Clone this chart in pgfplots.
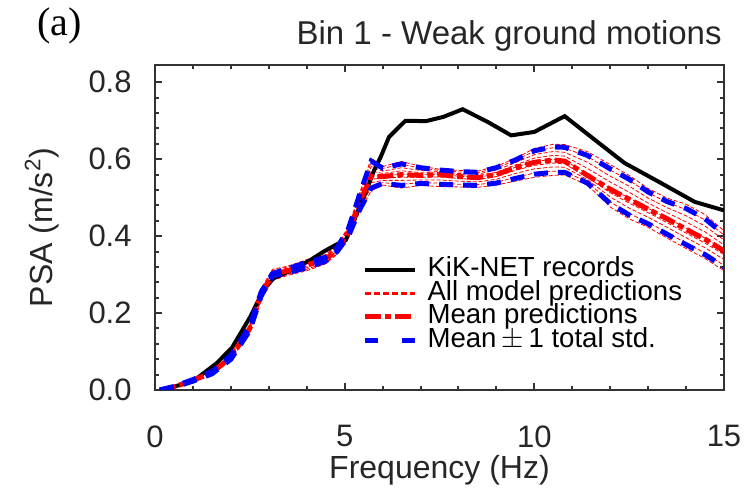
\documentclass[border=0pt]{standalone}
\usepackage{pgfplots}
\usepackage{pgfplotstable}
\pgfplotsset{compat=1.18}
\usepackage{fontspec}
\setmainfont{Liberation Sans}
\newfontfamily\serifa{Liberation Serif}

\pgfplotstableread{
f      v
0.13   0
0.66   0.013
1.1    0.03
1.63   0.07
2.03   0.11
2.51   0.19
2.86   0.26
3.12   0.29
3.57   0.31
4.1    0.338
4.45   0.36
4.76   0.377
5.03   0.39
5.24   0.44
5.5    0.50
5.77   0.57
5.95   0.606
6.17   0.658
6.6    0.70
7.14   0.699
7.6    0.71
8.11   0.73
8.77   0.697
9.39   0.662
10.0   0.671
10.8   0.712
11.6   0.65
12.38  0.59
13.36  0.537
14.23  0.489
15.0   0.467
}\records

\pgfplotstableread{
f     m      up     lo
0.13  0      0      0
0.5   0.008  0.009  0.007
1     0.025  0.027  0.023
1.5   0.045  0.048  0.042
2     0.085  0.090  0.080
2.5   0.160  0.165  0.155
2.8   0.250  0.255  0.245
3.1   0.300  0.303  0.297
3.5   0.310  0.315  0.305
4     0.325  0.332  0.318
4.5   0.340  0.345  0.335
4.8   0.365  0.370  0.360
5.1   0.410  0.420  0.400
5.4   0.490  0.510  0.470
5.7   0.555  0.595  0.525
6     0.555  0.577  0.537
6.5   0.560  0.588  0.532
7     0.558  0.578  0.537
7.5   0.560  0.572  0.535
8     0.555  0.568  0.533
8.5   0.552  0.566  0.532
9     0.560  0.578  0.538
9.5   0.578  0.598  0.550
10    0.592  0.622  0.561
10.5  0.598  0.632  0.566
10.8  0.595  0.631  0.566
11.4  0.558  0.610  0.538
12    0.522  0.575  0.485
12.5  0.496  0.548  0.455
13    0.470  0.515  0.432
13.5  0.445  0.490  0.405
14    0.418  0.472  0.378
14.5  0.392  0.445  0.352
15    0.362  0.405  0.320
}\stats

\pgfplotstableread{
f     A      B      C      D      E      F      G      H      I
0.13  0      0      0      0      0      0      0      0      0
0.5   0.006  0.006  0.007  0.008  0.008  0.009  0.009  0.010  0.010
1     0.021  0.022  0.023  0.024  0.025  0.026  0.027  0.028  0.029
1.5   0.040  0.041  0.043  0.044  0.045  0.046  0.048  0.049  0.050
2     0.078  0.080  0.082  0.084  0.085  0.087  0.089  0.091  0.092
2.5   0.150  0.153  0.156  0.158  0.160  0.163  0.165  0.168  0.170
2.8   0.235  0.239  0.243  0.247  0.251  0.254  0.258  0.261  0.264
3.1   0.285  0.289  0.293  0.297  0.301  0.304  0.308  0.311  0.314
3.5   0.298  0.301  0.305  0.308  0.311  0.314  0.317  0.320  0.322
4     0.310  0.314  0.318  0.322  0.326  0.329  0.333  0.336  0.339
4.5   0.328  0.331  0.335  0.338  0.341  0.344  0.347  0.350  0.352
4.8   0.353  0.356  0.360  0.363  0.366  0.369  0.372  0.375  0.377
5.1   0.395  0.399  0.403  0.407  0.411  0.414  0.418  0.421  0.424
5.4   0.465  0.472  0.479  0.485  0.491  0.497  0.503  0.509  0.514
5.7   0.518  0.528  0.539  0.548  0.557  0.569  0.581  0.593  0.603
6     0.533  0.539  0.545  0.551  0.556  0.563  0.569  0.576  0.581
6.5   0.525  0.535  0.545  0.553  0.561  0.570  0.578  0.587  0.594
7     0.532  0.539  0.546  0.553  0.559  0.565  0.571  0.577  0.582
7.5   0.529  0.538  0.546  0.554  0.561  0.564  0.568  0.571  0.574
8     0.528  0.535  0.543  0.550  0.556  0.560  0.563  0.567  0.571
8.5   0.527  0.534  0.541  0.547  0.553  0.557  0.561  0.565  0.569
9     0.533  0.540  0.548  0.555  0.561  0.566  0.572  0.577  0.582
9.5   0.543  0.553  0.563  0.571  0.579  0.585  0.591  0.597  0.602
10    0.553  0.564  0.575  0.584  0.594  0.603  0.612  0.621  0.628
10.5  0.558  0.569  0.580  0.590  0.600  0.610  0.620  0.630  0.639
10.8  0.559  0.569  0.579  0.588  0.597  0.608  0.618  0.629  0.638
11.4  0.533  0.540  0.547  0.553  0.561  0.576  0.592  0.607  0.620
12    0.476  0.489  0.502  0.513  0.525  0.541  0.556  0.572  0.586
12.5  0.445  0.459  0.473  0.486  0.499  0.514  0.530  0.545  0.558
13    0.423  0.436  0.449  0.461  0.472  0.486  0.499  0.513  0.524
13.5  0.395  0.409  0.423  0.435  0.447  0.461  0.474  0.488  0.499
14    0.368  0.382  0.396  0.408  0.421  0.437  0.453  0.469  0.483
14.5  0.342  0.356  0.370  0.382  0.395  0.411  0.426  0.442  0.456
15    0.310  0.324  0.339  0.352  0.364  0.377  0.390  0.403  0.414
}\models

\begin{document}
\begin{tikzpicture}
\path (-77.5pt,-51pt) rectangle (298pt,195pt);
\begin{axis}[
    scale only axis,
    width=284.5pt, height=162.5pt,
    xmin=0, xmax=15, ymin=0, ymax=0.845,
    xtick={0,5,10,15}, ytick={0,0.2,0.4,0.6,0.8},
    minor x tick num=4, minor y tick num=4,
    tick align=inside,
    major tick length=3.5pt, minor tick length=1.8pt,
    axis line style={line width=1.2pt, black!80},
    every tick/.style={line width=1pt, black!80},
    /pgf/number format/assume math mode=true,
    yticklabel style={/pgf/number format/fixed, /pgf/number format/precision=1,
        /pgf/number format/fixed zerofill, inner sep=0pt, xshift=-11.5pt},
    xticklabel style={inner sep=0pt, yshift=-17.5pt},
    tick label style={font=\fontsize{15.5}{17}\selectfont, black!85},
    xlabel={Frequency (Hz)},
    ylabel={PSA (m/s\textsuperscript{2})},
    label style={font=\fontsize{16}{18}\selectfont, black!85, inner sep=0pt},
    xlabel style={at={(axis description cs:0.5,-0.2708)}, anchor=base},
    ylabel style={at={(axis description cs:-0.1793,0.5)}, anchor=base},
    legend style={at={(axis cs:5.46,0.342)}, anchor=north west, draw=none, fill=none,
        font=\fontsize{13.8}{15}\selectfont, inner sep=0pt, column sep=5pt, row sep=0.4pt,
        nodes={inner sep=0pt, text height=9pt, text depth=2.3pt}},
    legend cell align=left,
    legend image code/.code={\draw[#1] plot coordinates {(0pt,0pt) (25pt,0pt)};},
]
\addlegendimage{black, line width=2pt}
\addlegendentry{KiK-NET records}
\addlegendimage{draw=red, line width=1.1pt, dash pattern=on 3pt off 1.5pt}
\addlegendentry{All model predictions}
\addlegendimage{red, line width=2.5pt, dash pattern=on 8pt off 2pt on 3pt off 2pt}
\addlegendentry{Mean predictions}
\addlegendimage{blue, line width=2.5pt, dash pattern=on 6.5pt off 12pt}
\addlegendentry{Mean$\,\pm\,$1 total std.}

\foreach \c in {A,B,C,D,E,F,G,H,I}{
  \addplot[forget plot, red, line width=0.4pt, dash pattern=on 2pt off 1pt] table[x=f, y=\c] {\models};
}
\addplot[forget plot, black, line width=2pt] table[x=f, y=v] {\records};
\addplot[forget plot, red, line width=2.5pt, dash pattern=on 8pt off 2pt on 3pt off 2pt] table[x=f, y=m] {\stats};
\addplot[forget plot, blue, line width=2.5pt, dash pattern=on 7pt off 5pt] table[x=f, y=up] {\stats};
\addplot[forget plot, blue, line width=2.5pt, dash pattern=on 7pt off 5pt] table[x=f, y=lo] {\stats};
\end{axis}
\node[anchor=base east, font=\fontsize{16.5}{18}\selectfont, black!85, inner sep=0pt]
    at (283.5pt,172.5pt) {Bin 1 - Weak ground motions};
\node[anchor=base west, font=\serifa\fontsize{20}{22}\selectfont, inner sep=0pt]
    at (-59pt,177pt) {(a)};
\end{tikzpicture}
\end{document}
